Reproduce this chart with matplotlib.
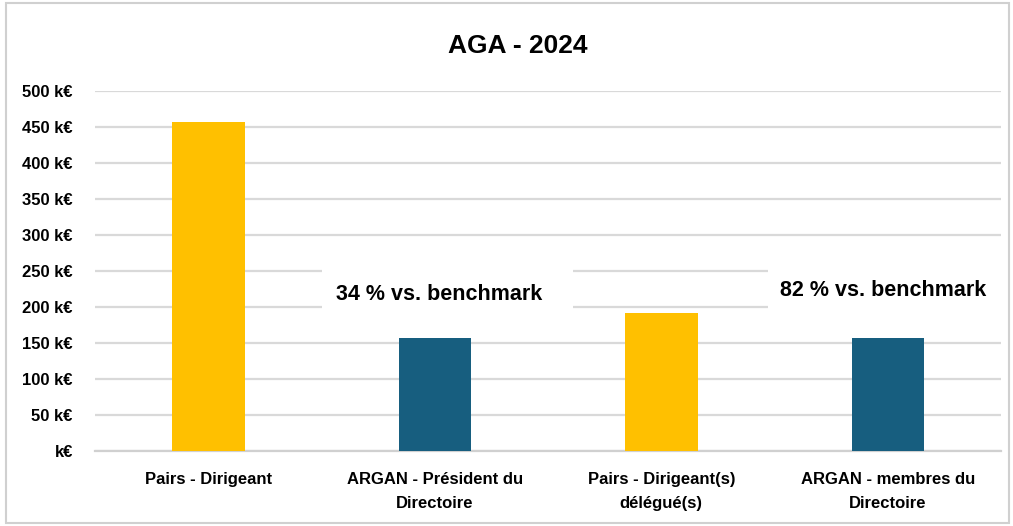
import matplotlib.pyplot as plt
from matplotlib.patches import Rectangle
from matplotlib.ticker import FuncFormatter

plt.rcParams['font.family'] = ['Liberation Sans Narrow', 'Liberation Sans', 'DejaVu Sans']

categories = ["Pairs - Dirigeant", "ARGAN - Président du\nDirectoire",
              "Pairs - Dirigeant(s)\ndélégué(s)", "ARGAN - membres du\nDirectoire"]
values = [457, 157, 192, 157]
colors = ["#FFC000", "#175E7F", "#FFC000", "#175E7F"]
notes = ["34 % vs. benchmark", "82 % vs. benchmark"]

fig = plt.figure(figsize=(10.13, 5.26), dpi=100)
ax = fig.add_axes([0.0938, 0.1426, 0.8944, 0.6844])

x = range(len(categories))
ax.bar(x, values, width=0.32, color=colors, zorder=3)

ax.set_xlim(-0.5, 3.5)
ax.set_ylim(0, 500)
ax.set_yticks(range(0, 501, 50))
ax.yaxis.set_major_formatter(FuncFormatter(lambda v, p: "k€" if v == 0 else f"{int(v)} k€"))
ax.set_xticks(list(x))
ax.set_xticklabels(categories, fontsize=12, fontweight='bold', linespacing=1.8)
for lab in ax.get_yticklabels():
    lab.set_fontweight('bold')
    lab.set_fontsize(12)
ax.tick_params(axis='y', length=0, pad=16)
ax.tick_params(axis='x', length=0, pad=15)
ax.grid(axis='y', color='#d9d9d9', linewidth=1.6, zorder=0)
ax.set_axisbelow(True)
for s in ['top', 'right', 'left']:
    ax.spines[s].set_visible(False)
ax.spines['bottom'].set_color('#d0d0d0')
ax.spines['bottom'].set_linewidth(1.6)

# white boxes behind the benchmark notes
ax.add_patch(Rectangle((0.5, 175), 1.11, 88, facecolor='white', edgecolor='none', zorder=1))
ax.add_patch(Rectangle((2.47, 175), 1.1, 88, facecolor='white', edgecolor='none', zorder=1,
                       clip_on=False))
ax.text(1.02, 218, notes[0], ha='center', va='center', fontsize=15.5, fontweight='bold',
        family=['Liberation Sans', 'DejaVu Sans'], zorder=4)
ax.text(2.98, 223, notes[1], ha='center', va='center', fontsize=15.5, fontweight='bold',
        family=['Liberation Sans', 'DejaVu Sans'], zorder=4)

fig.text(0.511, 0.912, "AGA - 2024", ha='center', va='center', fontsize=19, fontweight='bold',
         family=['Liberation Sans', 'DejaVu Sans'])

fig.patches.append(Rectangle((0.006, 0.005), 0.99, 0.99, transform=fig.transFigure,
                             facecolor='none', edgecolor='#d0d0d0', linewidth=1.5))

fig.savefig("out.png", dpi=100)
